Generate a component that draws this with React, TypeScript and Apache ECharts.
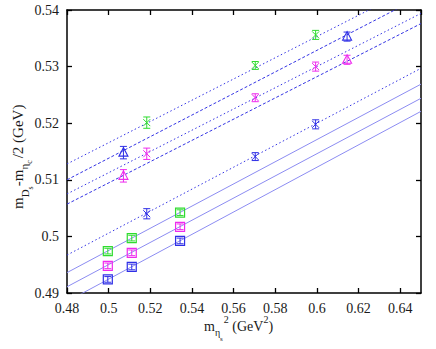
import React, { useEffect, useRef } from "react";
import * as echarts from "echarts";

// ---- data ----
const xTicks = [0.48, 0.5, 0.52, 0.54, 0.56, 0.58, 0.6, 0.62, 0.64];
const yTicks = [0.49, 0.5, 0.51, 0.52, 0.53, 0.54];

const xStars = [0.5183, 0.5704, 0.5994];
const greenStars = [0.5201, 0.5302, 0.5356];
const greenStarsErr = [0.001, 0.0007, 0.0008];
const magentaStars = [0.5146, 0.5245, 0.53];
const magentaStarsErr = [0.001, 0.0007, 0.0008];
const blueStars = [0.504, 0.5141, 0.5198];
const blueStarsErr = [0.0009, 0.0007, 0.0008];

const xTriangles = [0.5071, 0.6145];
const blueTriangles = [0.5148, 0.5353];
const blueTrianglesErr = [0.0011, 0.0008];
const magentaTriangles = [0.5107, 0.5312];
const magentaTrianglesErr = [0.0011, 0.0008];

const xSquares = [0.4996, 0.5111, 0.5343];
const greenSquares = [0.4974, 0.4997, 0.5042];
const magentaSquares = [0.4948, 0.4971, 0.5017];
const blueSquares = [0.4924, 0.4946, 0.4992];
const squaresErr = [0.0005, 0.0005, 0.0005];

// fit lines: value at x = 0.48 and at x = 0.65
const fitX = [0.48, 0.65];
const fitGreenStars = [0.5128, 0.5447];
const fitBlueTriangles = [0.51, 0.5424];
const fitMagentaStars = [0.5075, 0.5394];
const fitMagentaTriangles = [0.5057, 0.5376];
const fitBlueStars = [0.4967, 0.5297];
const fitGreenSquares = [0.4936, 0.5269];
const fitMagentaSquares = [0.4911, 0.5244];
const fitBlueSquares = [0.4885, 0.5221];

const GREEN = "#2fdc2f";
const MAGENTA = "#ee2aee";
const BLUE = "#2f2fe6";
const LINE_DARK = "#3434e4";
const LINE_LIGHT = "#8c8cf2";
const FONT = "serif";

function zip(xs: number[], ys: number[], es: number[]) {
  return xs.map((x, i) => [x, ys[i], es[i]]);
}

function measure(text: string, size: number) {
  const c = document.createElement("canvas").getContext("2d");
  if (!c) return text.length * size * 0.5;
  c.font = `${size}px serif`;
  return c.measureText(text).width;
}

type Seg = { t: string; s: number; dy: number; gap?: number };

function layoutText(segs: Seg[]) {
  let x = 0;
  const out: any[] = [];
  for (const sg of segs) {
    x += sg.gap || 0;
    out.push({
      type: "text",
      x,
      y: sg.dy - 0.34 * sg.s,
      style: {
        text: sg.t,
        fontSize: sg.s,
        fontFamily: FONT,
        fill: "#1a1a1a",
        align: "left",
        verticalAlign: "middle",
      },
    });
    x += measure(sg.t, sg.s);
  }
  return out;
}

function pointSeries(name: string, data: number[][], color: string, marker: string) {
  return {
    name,
    type: "custom",
    xAxisIndex: 0,
    yAxisIndex: 0,
    z: 5,
    encode: { x: 0, y: 1 },
    data,
    renderItem: (params: any, api: any) => {
      const x = api.value(0);
      const y = api.value(1);
      const e = api.value(2);
      const p = api.coord([x, y]);
      const top = api.coord([x, y + e])[1];
      const bot = api.coord([x, y - e])[1];
      const st = { stroke: color, lineWidth: 1, fill: null };
      const cw = 3.5;
      const children: any[] = [
        { type: "line", shape: { x1: p[0], y1: top, x2: p[0], y2: bot }, style: st },
        { type: "line", shape: { x1: p[0] - cw, y1: top, x2: p[0] + cw, y2: top }, style: st },
        { type: "line", shape: { x1: p[0] - cw, y1: bot, x2: p[0] + cw, y2: bot }, style: st },
      ];
      if (marker === "square") {
        children.push({
          type: "rect",
          shape: { x: p[0] - 4.5, y: p[1] - 4.5, width: 9, height: 9 },
          style: { stroke: color, lineWidth: 1.2, fill: "none" },
        });
      } else if (marker === "triangle") {
        children.push({
          type: "polygon",
          shape: { points: [[p[0], p[1] - 5], [p[0] + 4.5, p[1] + 3.5], [p[0] - 4.5, p[1] + 3.5]] },
          style: { stroke: color, lineWidth: 1.1, fill: "none" },
        });
      } else {
        const h = 3.5;
        children.push(
          { type: "line", shape: { x1: p[0] - h, y1: p[1] - h, x2: p[0] + h, y2: p[1] + h }, style: st },
          { type: "line", shape: { x1: p[0] - h, y1: p[1] + h, x2: p[0] + h, y2: p[1] - h }, style: st }
        );
      }
      return { type: "group", children };
    },
  };
}

function fitSeries(name: string, ys: number[], color: string, type: any, width = 1) {
  return {
    name,
    type: "line",
    xAxisIndex: 0,
    yAxisIndex: 0,
    z: 2,
    showSymbol: false,
    symbol: "none",
    clip: true,
    silent: true,
    data: fitX.map((x, i) => [x, ys[i]]),
    lineStyle: { color, width, type },
  };
}

export default function App() {
  const ref = useRef<HTMLDivElement>(null);
  useEffect(() => {
    if (!ref.current) return;
    const chart = echarts.init(ref.current, null, { renderer: "svg" });
    const axisCommon = {
      type: "value",
      axisLine: { show: true, onZero: false, lineStyle: { color: "#000", width: 1.5 } },
      axisTick: { show: true, inside: true, length: 5, lineStyle: { color: "#000", width: 1.3 } },
      splitLine: { show: false },
    };
    const labelStyle = { fontSize: 14, fontFamily: FONT, color: "#1a1a1a", margin: 8 };

    const yTitle = layoutText([
      { t: "m", s: 15, dy: 0 },
      { t: "D", s: 11, dy: 6 },
      { t: "s", s: 8, dy: 10 },
      { t: "-m", s: 15, dy: 0 },
      { t: "η", s: 11, dy: 5 },
      { t: "c", s: 8, dy: 9 },
      { t: "/2 (GeV)", s: 15, dy: 0, gap: 2 },
    ]);
    const xTitle = layoutText([
      { t: "m", s: 14, dy: 0 },
      { t: "η", s: 10, dy: 5 },
      { t: "s", s: 7, dy: 10 },
      { t: "2", s: 10, dy: -8, gap: 1 },
      { t: " (GeV", s: 14, dy: 0 },
      { t: "2", s: 10, dy: -8 },
      { t: ")", s: 14, dy: 0 },
    ]);

    chart.setOption({
      animation: false,
      textStyle: { fontFamily: FONT },
      grid: { left: 67, right: 15, top: 10, bottom: 56, containLabel: false, outerBoundsMode: "none" },
      xAxis: [
        {
          ...axisCommon,
          position: "bottom",
          min: 0.48,
          max: 0.65,
          interval: 0.02,
          axisLabel: { ...labelStyle, showMaxLabel: false },
        },
        {
          ...axisCommon,
          position: "top",
          min: 0.48,
          max: 0.65,
          interval: 0.02,
          axisLabel: { show: false },
        },
      ],
      yAxis: [
        {
          ...axisCommon,
          position: "left",
          min: 0.49,
          max: 0.54,
          interval: 0.01,
          axisLabel: { ...labelStyle },
        },
        {
          ...axisCommon,
          position: "right",
          min: 0.49,
          max: 0.54,
          interval: 0.01,
          axisLabel: { show: false },
        },
      ],
      graphic: [
        { type: "group", x: 23, y: 209, rotation: Math.PI / 2, children: yTitle },
        { type: "group", x: 204, y: 331, children: xTitle },
      ],
      series: [
        fitSeries("fit green stars", fitGreenStars, LINE_DARK, [1.5, 2.5]),
        fitSeries("fit blue triangles", fitBlueTriangles, LINE_DARK, [3, 2]),
        fitSeries("fit magenta stars", fitMagentaStars, LINE_DARK, [1.5, 2.5]),
        fitSeries("fit magenta triangles", fitMagentaTriangles, LINE_DARK, [3, 2]),
        fitSeries("fit blue stars", fitBlueStars, LINE_DARK, [1.5, 2.5]),
        fitSeries("fit green squares", fitGreenSquares, LINE_LIGHT, "solid"),
        fitSeries("fit magenta squares", fitMagentaSquares, LINE_LIGHT, "solid"),
        fitSeries("fit blue squares", fitBlueSquares, LINE_LIGHT, "solid"),
        pointSeries("green stars", zip(xStars, greenStars, greenStarsErr), GREEN, "cross"),
        pointSeries("magenta stars", zip(xStars, magentaStars, magentaStarsErr), MAGENTA, "cross"),
        pointSeries("blue stars", zip(xStars, blueStars, blueStarsErr), BLUE, "cross"),
        pointSeries("blue triangles", zip(xTriangles, blueTriangles, blueTrianglesErr), BLUE, "triangle"),
        pointSeries("magenta triangles", zip(xTriangles, magentaTriangles, magentaTrianglesErr), MAGENTA, "triangle"),
        pointSeries("green squares", zip(xSquares, greenSquares, squaresErr), GREEN, "square"),
        pointSeries("magenta squares", zip(xSquares, magentaSquares, squaresErr), MAGENTA, "square"),
        pointSeries("blue squares", zip(xSquares, blueSquares, squaresErr), BLUE, "square"),
      ],
    });
    return () => chart.dispose();
  }, []);
  return (
    <div
      ref={ref}
      style={{ position: "absolute", left: 0, top: 0, width: 436, height: 349, background: "#fff" }}
    />
  );
}
